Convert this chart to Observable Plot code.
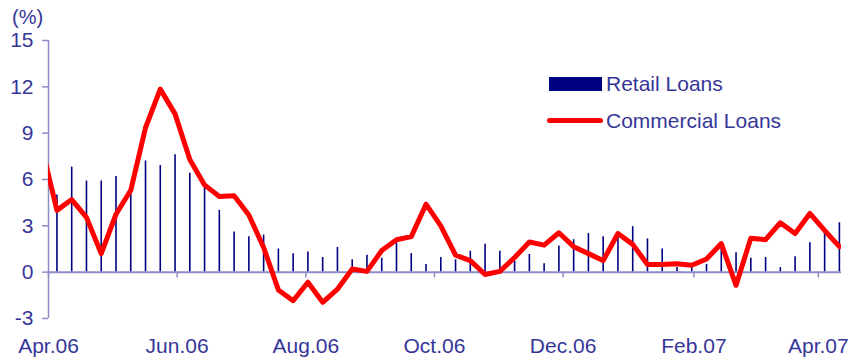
<!DOCTYPE html>
<html>
<head>
<meta charset="utf-8">
<script src="https://cdn.jsdelivr.net/npm/d3@7"></script>
<script src="https://cdn.jsdelivr.net/npm/@observablehq/plot@0.6"></script>
<style>
  body { margin: 0; background: #fff; }
  #chart { position: relative; width: 851px; height: 362px; font-family: "Liberation Sans", Arial, sans-serif; color: #363699; }
  #chart svg { display: block; }
  .lbl { position: absolute; font-size: 21px; line-height: 21px; white-space: nowrap; }
  .swatch-bar { position: absolute; left: 549px; top: 77px; width: 53px; height: 14px; background: #000080; }
  .swatch-line { position: absolute; left: 547px; top: 117.5px; width: 56px; height: 5px; border-radius: 2.5px; background: #ff0000; }
</style>
</head>
<body>
<div id="chart">
  <div class="lbl" style="left:12px; top:7px; font-size:20px; line-height:20px;">(%)</div>
  <div class="swatch-bar"></div>
  <div class="lbl" style="left:606px; top:73px;">Retail Loans</div>
  <div class="swatch-line"></div>
  <div class="lbl" style="left:606px; top:110px;">Commercial Loans</div>
</div>
<script>
// Weekly observations, year-on-year growth (%)
const weeks = [
  "2006-03-29","2006-04-05","2006-04-12","2006-04-19","2006-04-26","2006-05-03","2006-05-10",
  "2006-05-17","2006-05-24","2006-05-31","2006-06-07","2006-06-14","2006-06-21","2006-06-28",
  "2006-07-05","2006-07-12","2006-07-19","2006-07-26","2006-08-02","2006-08-09","2006-08-16",
  "2006-08-23","2006-08-30","2006-09-06","2006-09-13","2006-09-20","2006-09-27","2006-10-04",
  "2006-10-11","2006-10-18","2006-10-25","2006-11-01","2006-11-08","2006-11-15","2006-11-22",
  "2006-11-29","2006-12-06","2006-12-13","2006-12-20","2006-12-27","2007-01-03","2007-01-10",
  "2007-01-17","2007-01-24","2007-01-31","2007-02-07","2007-02-14","2007-02-21","2007-02-28",
  "2007-03-07","2007-03-14","2007-03-21","2007-03-28","2007-04-04","2007-04-11"
];

const retailLoans = [
  null, 5.0, 6.8, 5.9, 5.9, 6.2, 5.2,
  7.2, 6.9, 7.6, 6.4, 5.5, 4.0, 2.6,
  2.3, 2.4, 1.5, 1.2, 1.3, 0.95, 1.6,
  0.8, 1.1, 0.9, 1.9, 1.2, 0.5, 0.95,
  0.8, 1.35, 1.8, 1.35, 0.7, 1.15, 0.55,
  1.7, 2.1, 2.5, 2.3, 2.4, 2.95, 2.15,
  1.5, 0.3, 0.35, 0.5, 1.8, 1.25, 0.9,
  0.95, 0.3, 1.0, 1.9, 2.5, 3.2
];

const commercialLoans = [
  8.0, 4.0, 4.7, 3.55, 1.2, 3.75, 5.3,
  9.35, 11.85, 10.25, 7.3, 5.65, 4.9, 4.95,
  3.7, 1.6, -1.15, -1.85, -0.65, -1.95, -1.1,
  0.2, 0.05, 1.4, 2.1, 2.3, 4.4, 3.0,
  1.1, 0.75, -0.15, 0.05, 0.95, 1.95, 1.75,
  2.55, 1.65, 1.2, 0.75, 2.5, 1.8, 0.5,
  0.5, 0.55, 0.45, 0.85, 1.85, -0.85, 2.2,
  2.1, 3.2, 2.5, 3.8, 2.7, 1.65
];

const tickDates  = ["2006-04-01","2006-06-01","2006-08-01","2006-10-01","2006-12-01","2007-02-01","2007-04-01"];
const tickLabels = ["Apr.06","Jun.06","Aug.06","Oct.06","Dec.06","Feb.07","Apr.07"];
const yTicks = [-3, 0, 3, 6, 9, 12, 15];

const textColor = "#363699";
const axisColor = "#8c8cc8";

const parse = d3.utcParse("%Y-%m-%d");
const rows = weeks.map((w, i) => ({date: parse(w), retail: retailLoans[i], commercial: commercialLoans[i]}));
const ticks = tickDates.map(parse);
const labelOf = new Map(ticks.map((t, i) => [+t, tickLabels[i]]));
const xStart = parse("2006-04-01");
const xEnd = parse("2007-04-12");

const chart = Plot.plot({
  width: 851,
  height: 362,
  marginLeft: 48,
  marginRight: 10,
  marginTop: 40,
  marginBottom: 44,
  style: {fontFamily: "'Liberation Sans', Arial, sans-serif", fontSize: "21px", color: textColor, background: "transparent"},
  x: {type: "utc", domain: [xStart, xEnd]},
  y: {domain: [-3, 15]},
  marks: [
    Plot.axisY({ticks: yTicks, tickSize: 6, tickPadding: 9, stroke: axisColor, strokeWidth: 1.5, fill: textColor, tickFormat: d => String(d), label: null}),
    Plot.axisX({ticks, tickSize: 0, tickPadding: 20, fill: textColor, tickFormat: d => labelOf.get(+d), label: null}),
    // retail loans as thin vertical bars from zero
    Plot.ruleX(rows.filter(d => d.retail != null), {x: "date", y1: 0, y2: "retail", stroke: "#000080", strokeWidth: 1.6, clip: true}),
    // zero line with month ticks hanging below it
    Plot.ruleY([0], {stroke: axisColor, strokeWidth: 2}),
    Plot.ruleX(ticks, {x: d => d, y1: 0, y2: -0.38, stroke: axisColor, strokeWidth: 1.5}),
    // vertical value axis line
    Plot.ruleX([xStart], {y1: -3, y2: 15, stroke: axisColor, strokeWidth: 1.5}),
    // commercial loans line
    Plot.line(rows, {x: "date", y: "commercial", stroke: "#ff0000", strokeWidth: 5, strokeLinejoin: "round", clip: true})
  ]
});

document.getElementById("chart").prepend(chart);
</script>
</body>
</html>
